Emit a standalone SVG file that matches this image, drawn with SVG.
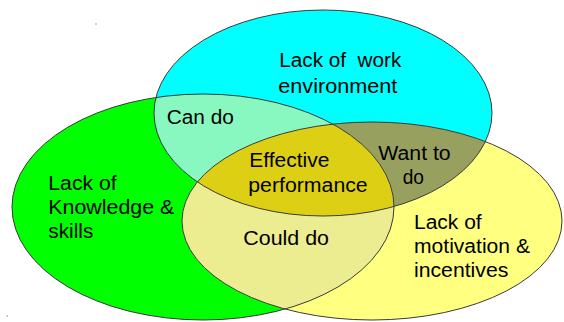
<svg xmlns="http://www.w3.org/2000/svg" width="564" height="322" viewBox="0 0 564 322">
<style>
.lbl{font-family:"Liberation Sans",Arial,Helvetica,sans-serif;font-size:20px;fill:#000}
.edge{fill:none;stroke:#3a3a3a;stroke-width:1}
</style>
<defs>
<ellipse id="eG" cx="203" cy="207" rx="191" ry="113"/>
<ellipse id="eC" cx="323" cy="113" rx="169" ry="103"/>
<ellipse id="eY" cx="372" cy="221" rx="190" ry="99"/>
<clipPath id="clipG"><use href="#eG"/></clipPath>
<clipPath id="clipC"><use href="#eC"/></clipPath>
<clipPath id="clipY"><use href="#eY"/></clipPath>
</defs>
<rect width="564" height="322" fill="#fff"/>
<g id="set-knowledge">
<use href="#eG" fill="#00FF00"/>
</g>
<g id="set-environment">
<use href="#eC" fill="#00FFFF"/>
</g>
<g id="set-motivation">
<use href="#eY" fill="#FFFF80"/>
</g>
<g id="overlap-can-do">
<use href="#eC" fill="#88F8C0" clip-path="url(#clipG)"/>
</g>
<g id="overlap-want-to-do">
<use href="#eC" fill="#98A060" clip-path="url(#clipY)"/>
</g>
<g id="overlap-could-do">
<use href="#eG" fill="#ECEC90" clip-path="url(#clipY)"/>
</g>
<g id="overlap-effective">
<g clip-path="url(#clipY)"><use href="#eC" fill="#DDD014" clip-path="url(#clipG)"/></g>
</g>
<g id="outlines">
<use href="#eG" class="edge"/>
<use href="#eC" class="edge"/>
<use href="#eY" class="edge"/>
</g>
<g id="labels">
<text class="lbl" x="279.3" y="67.3" textLength="122" lengthAdjust="spacingAndGlyphs" xml:space="preserve">Lack of  work</text>
<text class="lbl" x="278.3" y="93.3" textLength="119" lengthAdjust="spacingAndGlyphs">environment</text>
<text class="lbl" x="166.7" y="124" textLength="67.3" lengthAdjust="spacingAndGlyphs">Can do</text>
<text class="lbl" x="249.3" y="167.3" textLength="80" lengthAdjust="spacingAndGlyphs">Effective</text>
<text class="lbl" x="248.3" y="192.3" textLength="119.4" lengthAdjust="spacingAndGlyphs">performance</text>
<text class="lbl" x="378.3" y="160" textLength="72.4" lengthAdjust="spacingAndGlyphs">Want to</text>
<text class="lbl" x="402.7" y="184.3" textLength="21.3" lengthAdjust="spacingAndGlyphs">do</text>
<text class="lbl" x="48.3" y="190" textLength="68.4" lengthAdjust="spacingAndGlyphs">Lack of</text>
<text class="lbl" x="48.3" y="214.3" textLength="126" lengthAdjust="spacingAndGlyphs">Knowledge &amp;</text>
<text class="lbl" x="48.3" y="237.7" textLength="45" lengthAdjust="spacingAndGlyphs">skills</text>
<text class="lbl" x="243.3" y="245" textLength="85.7" lengthAdjust="spacingAndGlyphs">Could do</text>
<text class="lbl" x="414" y="229" textLength="67.7" lengthAdjust="spacingAndGlyphs">Lack of</text>
<text class="lbl" x="414" y="253.3" textLength="116" lengthAdjust="spacingAndGlyphs">motivation &amp;</text>
<text class="lbl" x="414" y="276.7" textLength="94.3" lengthAdjust="spacingAndGlyphs">incentives</text>
</g>
<g id="specks" fill="#888">
<circle cx="96" cy="24" r="0.8"/>
<circle cx="7.3" cy="316" r="0.7"/>
</g>
</svg>
